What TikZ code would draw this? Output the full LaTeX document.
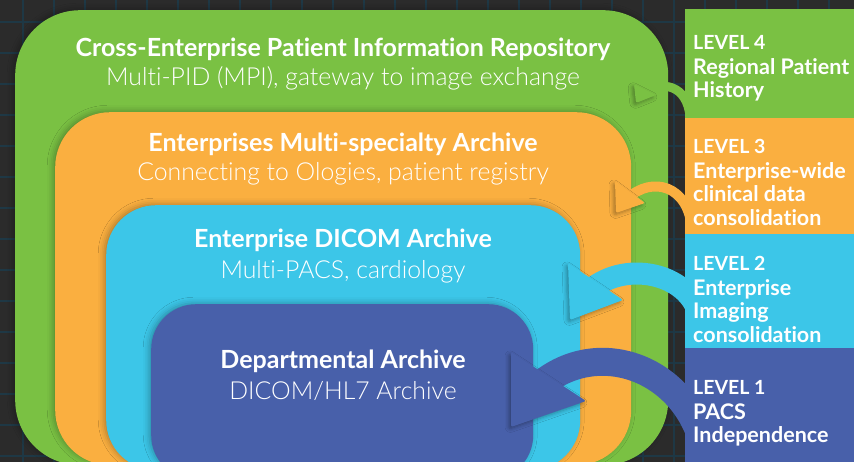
\documentclass[tikz,border=0pt]{standalone}
\usepackage{fontspec}
\setmainfont{Lato}[Ligatures=NoCommon]
\newfontfamily\lightfont{Lato Light}[Ligatures=NoCommon]
\usetikzlibrary{shadows.blur}
\definecolor{bgdark}{HTML}{2B2B2B}
\definecolor{gridline}{HTML}{1E3845}
\definecolor{lvfour}{HTML}{7AC143}
\definecolor{lvthree}{HTML}{FAAF40}
\definecolor{lvtwo}{HTML}{3CC6E8}
\definecolor{lvone}{HTML}{4860AA}

\begin{document}
\begin{tikzpicture}
[x=1pt,y=-1pt,%
  box/.style={shape=rectangle,anchor=north west,inner sep=0pt,%
    blur shadow={shadow xshift=-2pt,shadow yshift=1pt,shadow blur radius=6pt,shadow opacity=30}},%
  panel/.style={shape=rectangle,anchor=north west,inner sep=0pt,minimum width=169pt},%
  head/.style={anchor=base,inner sep=0pt,text=white,font=\fontsize{25}{29}\selectfont\bfseries},%
  sub/.style={anchor=base,inner sep=0pt,text=white,font=\fontsize{24.8}{29}\lightfont},%
  lvtext/.style={anchor=north west,inner sep=0pt,align=left,text=white,font=\fontsize{21.5}{23.5}\selectfont\bfseries},%
  band/.style={line cap=butt},%
  tip/.style={rounded corners=2pt,%
    blur shadow={shadow xshift=-2pt,shadow yshift=-2pt,shadow blur radius=4pt,shadow opacity=35}}]
\useasboundingbox (0,0) rectangle (854,462);
\clip (0,0) rectangle (854,462);
\fill[bgdark] (0,0) rectangle (854,462);
\foreach \x in {23,54,...,860}
  \draw[gridline,line width=2.5pt] (\x,0) -- (\x,462);
\foreach \y in {22,53,...,470}
  \draw[gridline,line width=2.5pt] (0,\y) -- (854,\y);

\node[box,fill=lvfour,rounded corners=65pt,minimum width=653pt,minimum height=455pt] (b4) at (15,10) {};
\node[box,fill=lvthree,rounded corners=55pt,minimum width=576pt,minimum height=353pt] (b3) at (55,112) {};
\node[box,fill=lvtwo,rounded corners=50pt,minimum width=474pt,minimum height=265pt] (b2) at (106,205) {};
\node[box,fill=lvone,rounded corners=45pt,minimum width=382pt,minimum height=176pt] (b1) at (151,304) {};

\node[head] (h4) at (343,57) {Cross-Enterprise Patient Information Repository};
\node[sub] (s4) at (343,86) {Multi-PID (MPI), gateway to image exchange};
\node[head] (h3) at (343,152) {Enterprises Multi-specialty Archive};
\node[sub] (s3) at (343,181) {Connecting to Ologies, patient registry};
\node[head] (h2) at (343,248) {Enterprise DICOM Archive};
\node[sub] (s2) at (343,279) {Multi-PACS, cardiology};
\node[head] (h1) at (343,368) {Departmental Archive};
\node[sub] (s1) at (343,399) {DICOM/HL7 Archive};

\node[panel,fill=lvfour,minimum height=109pt] (p4) at (685,9) {};
\node[panel,fill=lvthree,minimum height=116pt] (p3) at (685,118) {};
\node[panel,fill=lvtwo,minimum height=114pt] (p2) at (685,234) {};
\node[panel,fill=lvone,minimum height=120pt] (p1) at (685,348) {};

\coordinate (e4) at (645,93);
\coordinate (e3) at (628,198);
\coordinate (e2) at (590,290);
\coordinate (e1) at (540,385);

\draw[band,lvfour,line width=9pt]
  ([xshift=5pt,yshift=2pt]p4.south west) .. controls (687,85) and (662,80) .. (e4);
\fill[tip,lvfour] (634,84) -- (636,103) -- (656,95) -- cycle;
\draw[band,lvthree,line width=10pt]
  ([xshift=7pt,yshift=6pt]p3.south west) .. controls (688,185) and (652,176) .. (e3);
\fill[tip,lvthree] (615,181) -- (616,213) -- (645,203) -- cycle;
\draw[band,lvtwo,line width=22pt]
  ([xshift=15pt,yshift=28pt]p2.south west) .. controls (694,275) and (628,258) .. (e2);
\fill[tip,lvtwo] (568,263) -- (570,320) -- (623,300) -- cycle;
\draw[band,lvone,line width=28pt]
  ([xshift=20pt,yshift=18pt]p1.south west) .. controls (688,370) and (600,335) .. (e1);
\fill[tip,lvone] (511,352) -- (511,427) -- (586,401) -- cycle;

\node[lvtext] (t4) at (693,35) {{\fontsize{19.5}{23.5}\selectfont LEVEL 4}\\[1.5pt]Regional Patient\\History};
\node[lvtext] (t3) at (693,139) {{\fontsize{19.5}{23.5}\selectfont LEVEL 3}\\[1.5pt]Enterprise-wide\\clinical data\\consolidation};
\node[lvtext] (t2) at (693,256) {{\fontsize{19.5}{23.5}\selectfont LEVEL 2}\\[1.5pt]Enterprise\\Imaging\\consolidation};
\node[lvtext] (t1) at (693,380) {{\fontsize{19.5}{23.5}\selectfont LEVEL 1}\\[1.5pt]PACS\\Independence};
\end{tikzpicture}
\end{document}
